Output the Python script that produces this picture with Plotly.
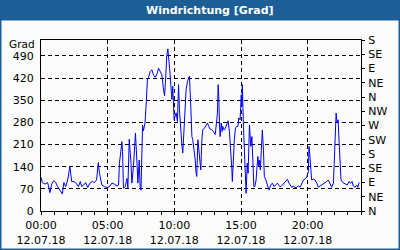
import plotly.graph_objects as go

# time in minutes after 00:00 on 12.07.18, wind direction in degrees
time_min = [0, 6, 18, 30, 40, 48, 58, 66, 75, 85, 96, 103, 111, 120, 130, 138, 148, 156, 168, 177,
            183, 192, 201, 210, 220, 231, 240, 250, 258, 263, 274, 285, 297, 308, 319, 330, 342, 349,
            353, 360, 364, 367, 371, 379, 387, 391, 397, 405, 409, 416, 421, 425, 432, 436, 442, 446,
            450, 454, 457, 461, 468, 473, 479, 484, 491, 499, 506, 514, 522, 529, 536, 544, 551, 556,
            560, 566, 571, 577, 581, 589, 593, 599, 608, 614, 619, 623, 629, 634, 638, 644, 649, 653,
            659, 665, 668, 674, 679, 683, 689, 694, 698, 701, 706, 713, 719, 724, 728, 736, 743, 749,
            755, 761, 769, 776, 784, 788, 794, 797, 800, 803, 806, 811, 815, 818, 824, 830, 836, 842,
            848, 854, 859, 861, 866, 870, 875, 881, 886, 890, 896, 901, 904, 906, 911, 915, 920, 923,
            928, 932, 938, 944, 949, 953, 958, 962, 968, 971, 976, 980, 983, 987, 992, 996, 1001, 1005,
            1012, 1019, 1026, 1034, 1041, 1049, 1057, 1064, 1071, 1079, 1086, 1094, 1102, 1109, 1116,
            1128, 1136, 1143, 1151, 1158, 1166, 1173, 1181, 1188, 1196, 1203, 1206, 1209, 1214, 1218,
            1226, 1233, 1241, 1248, 1256, 1263, 1271, 1278, 1286, 1293, 1301, 1308, 1316, 1320, 1325,
            1328, 1332, 1337, 1341, 1346, 1350, 1358, 1365, 1373, 1378, 1386, 1394, 1400, 1405, 1413,
            1421, 1425, 1430, 1432]
direction = [107, 90, 85, 90, 58, 85, 96, 90, 77, 66, 54, 90, 77, 98, 140, 93, 93, 90, 77, 93,
             77, 82, 90, 74, 88, 93, 90, 98, 153, 119, 82, 77, 74, 77, 88, 85, 79, 82,
             151, 193, 219, 188, 72, 77, 103, 72, 227, 151, 88, 140, 193, 246, 151, 88, 161, 77,
             66, 193, 271, 253, 278, 333, 417, 422, 440, 446, 430, 422, 433, 451, 440, 430, 385, 364,
             406, 491, 512, 470, 431, 352, 394, 288, 310, 283, 399, 320, 235, 209, 183, 267, 352, 383,
             409, 425, 426, 330, 235, 225, 193, 161, 119, 109, 225, 183, 130, 225, 256, 262, 272, 278,
             267, 259, 256, 251, 241, 267, 309, 399, 362, 278, 235, 278, 251, 267, 256, 262, 278, 285,
             251, 193, 130, 93, 204, 225, 262, 267, 267, 294, 288, 367, 330, 399, 267, 172, 109, 56,
             151, 119, 272, 204, 235, 140, 77, 77, 98, 130, 172, 140, 161, 130, 214, 256, 193, 109,
             98, 82, 66, 82, 88, 77, 82, 88, 80, 77, 82, 88, 93, 100, 88,
             75, 79, 74, 75, 79, 75, 88, 98, 101, 107, 124, 204, 183, 146, 98,
             101, 98, 88, 75, 79, 82, 88, 90, 93, 98, 88, 75, 88, 161, 246,
             309, 278, 288, 225, 161, 98, 90, 88, 85, 82, 93, 88, 93, 79, 75,
             82, 75, 88, 90]

x_tick_vals = [0, 300, 600, 900, 1200]
x_tick_text = ["00:00<br>12.07.18", "05:00<br>12.07.18", "10:00<br>12.07.18",
               "15:00<br>12.07.18", "20:00<br>12.07.18"]
y_tick_vals = [0, 70, 140, 210, 280, 350, 420, 490]
dir_vals = [0, 45, 90, 135, 180, 225, 270, 315, 360, 405, 450, 495, 540]
dir_text = ["N", "NE", "E", "SE", "S", "SW", "W", "NW", "N", "NE", "E", "SE", "S"]

W, H = 400, 250
ML, MR, MT, MB = 41, 39, 40, 39
PW, PH = W - ML - MR, H - MT - MB
BLUE = "#1c5f96"
BG = "#fbfcfb"
FONT = "DejaVu Sans"


def px(x):
    return (x - ML) / PW


def py(y):
    return (H - MB - y) / PH


fig = go.Figure()
fig.add_trace(go.Scatter(x=time_min, y=direction, mode="lines",
                         line=dict(color="#0000ff", width=1), hoverinfo="skip", showlegend=False))
fig.add_trace(go.Scatter(x=[0], y=[0], yaxis="y2", mode="markers", marker=dict(opacity=0),
                         hoverinfo="skip", showlegend=False))

fig.update_layout(
    width=W, height=H, autosize=False,
    margin=dict(l=ML, r=MR, t=MT, b=MB, pad=0, autoexpand=False),
    paper_bgcolor=BG, plot_bgcolor=BG,
    font=dict(family=FONT, size=11, color="black"),
    xaxis=dict(range=[0, 1440], tickvals=x_tick_vals, ticktext=x_tick_text,
               ticks="outside", ticklen=3, tickcolor="black", tickwidth=1,
               ticklabelstandoff=1, automargin=False,
               showline=True, linecolor="black", linewidth=1, mirror=True,
               showgrid=True, gridcolor="black", gridwidth=1, griddash="4px,3px",
               zeroline=False, fixedrange=True,
               minor=dict(dtick=60, tick0=0, ticks="outside", ticklen=3, tickcolor="black",
                          showgrid=False)),
    yaxis=dict(range=[0, 540], tickvals=y_tick_vals, ticks="", ticklabelstandoff=4,
               automargin=False,
               showline=True, linecolor="black", linewidth=1, mirror=True,
               showgrid=True, gridcolor="black", gridwidth=1, griddash="4px,3px",
               zeroline=False, fixedrange=True),
    yaxis2=dict(range=[0, 540], overlaying="y", side="right", tickvals=dir_vals,
                ticktext=dir_text, ticks="outside", ticklen=3, tickcolor="black",
                automargin=False,
                showline=True, linecolor="black", linewidth=1, showgrid=False,
                zeroline=False, fixedrange=True, ticklabelstandoff=1),
    shapes=[
        dict(type="rect", xref="paper", yref="paper", x0=px(0), x1=px(W), y0=py(20.5), y1=py(0),
             fillcolor=BLUE, line=dict(width=0), layer="above"),
        dict(type="rect", xref="paper", yref="paper", x0=px(0.75), x1=px(W - 0.75),
             y0=py(H - 0.75), y1=py(0.75), line=dict(color=BLUE, width=1.5), layer="above"),
    ],
    annotations=[
        dict(text="<b>Windrichtung [Grad]</b>", xref="paper", yref="paper", x=px(209.5), y=py(10.5),
             xanchor="center", yanchor="middle", showarrow=False,
             font=dict(family=FONT, size=11, color="white")),
        dict(text="Grad", xref="paper", yref="paper", x=px(36.5), y=py(44),
             xanchor="right", yanchor="middle", showarrow=False,
             font=dict(family=FONT, size=10.5, color="black")),
    ],
)

fig.write_html("out.html", config={"displayModeBar": False})
